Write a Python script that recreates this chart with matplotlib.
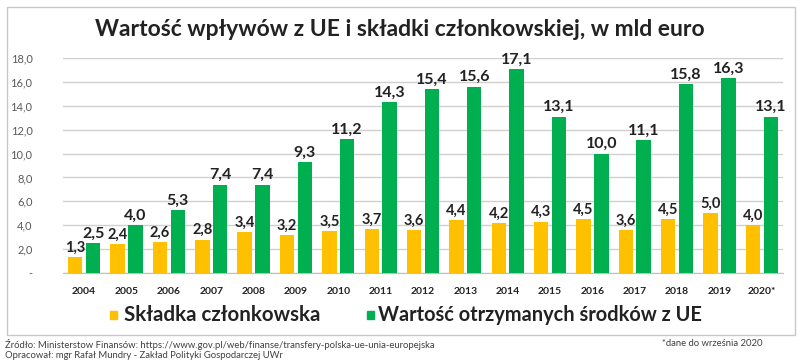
import matplotlib
matplotlib.use("Agg")
import matplotlib.pyplot as plt
import numpy as np
from matplotlib.patches import Rectangle

years = ["2004","2005","2006","2007","2008","2009","2010","2011","2012","2013","2014","2015","2016","2017","2018","2019","2020*"]
skladka = [1.3,2.4,2.6,2.8,3.4,3.2,3.5,3.7,3.6,4.4,4.2,4.3,4.5,3.6,4.5,5.0,4.0]
srodki = [2.5,4.0,5.3,7.4,7.4,9.3,11.2,14.3,15.4,15.6,17.1,13.1,10.0,11.1,15.8,16.3,13.1]
yticks = [0,2,4,6,8,10,12,14,16,18]

YEL = "#FFC000"
GRN = "#00B050"
plt.rcParams['font.family'] = ['Lato', 'DejaVu Sans']

fig = plt.figure(figsize=(8, 3.64), dpi=100)
fig.patches.append(Rectangle((7/800, 1-335/364), 788/800, 328/364, transform=fig.transFigure,
                             fill=False, edgecolor="#C8C8C8", linewidth=1))
ax = fig.add_axes([63/800, 1-273/364, 720/800, 215/364])
x = np.arange(len(years))
w = 0.34
off = 0.21
ax.bar(x-off, skladka, w, color=YEL, zorder=3)
ax.bar(x+off, srodki, w, color=GRN, zorder=3)
for xi, v in zip(x, skladka):
    ax.text(xi-off, v+0.2, f"{v:.1f}".replace(".", ","), ha="center", va="bottom",
            fontsize=10.5, fontweight="bold", color="#222222")
for xi, v in zip(x, srodki):
    ax.text(xi+off, v+0.2, f"{v:.1f}".replace(".", ","), ha="center", va="bottom",
            fontsize=11.5, fontweight="bold", color="#222222", clip_on=False)
ax.set_xlim(-0.5, len(years)-0.5)
ax.set_ylim(0, 18)
ax.set_yticks(yticks)
ax.set_yticklabels(["-"] + [f"{t:.1f}".replace(".", ",") for t in yticks[1:]], fontsize=8, color="#595959")
ax.set_xticks(x)
ax.set_xticklabels(years, fontsize=7.5, fontweight="bold", color="#222222")
ax.tick_params(axis="both", length=0)
ax.tick_params(axis="y", pad=22)
ax.tick_params(axis="x", pad=10)
ax.grid(axis="y", color="#D0D0D0", linewidth=1, zorder=0)
for s in ["left", "right", "top"]:
    ax.spines[s].set_visible(False)
ax.spines["bottom"].set_color("#BFBFBF")

fig.text(400/800, 1-30/364, "Wartość wpływów z UE i składki członkowskiej, w mld euro", ha="center", va="center",
         fontsize=16.5, fontweight="bold", color="#222222")

# legend
fig.patches.append(Rectangle((110/800, 1-319/364), 7/800, 8/364, transform=fig.transFigure, color=YEL))
fig.text(124/800, 1-315/364, "Składka członkowska", ha="left", va="center", fontsize=14.8,
         fontweight="bold", color="#222222")
fig.patches.append(Rectangle((367/800, 1-319/364), 7/800, 8/364, transform=fig.transFigure, color=GRN))
fig.text(378/800, 1-315/364, "Wartość otrzymanych środków z UE", ha="left", va="center", fontsize=14.4,
         fontweight="bold", color="#222222")

fig.text(5/800, 1-344/364, "Źródło: Ministerstow Finansów: https://www.gov.pl/web/finanse/transfery-polska-ue-unia-europejska",
         ha="left", va="center", fontsize=6.8, color="#404040")
fig.text(5/800, 1-356/364, "Opracował: mgr Rafał Mundry - Zakład Polityki Gospodarczej UWr",
         ha="left", va="center", fontsize=6.8, color="#404040")
fig.text(763/800, 1-344/364, "*dane do września 2020", ha="right", va="center", fontsize=6.8, color="#404040")

fig.savefig("out.png", dpi=100, facecolor="white")
